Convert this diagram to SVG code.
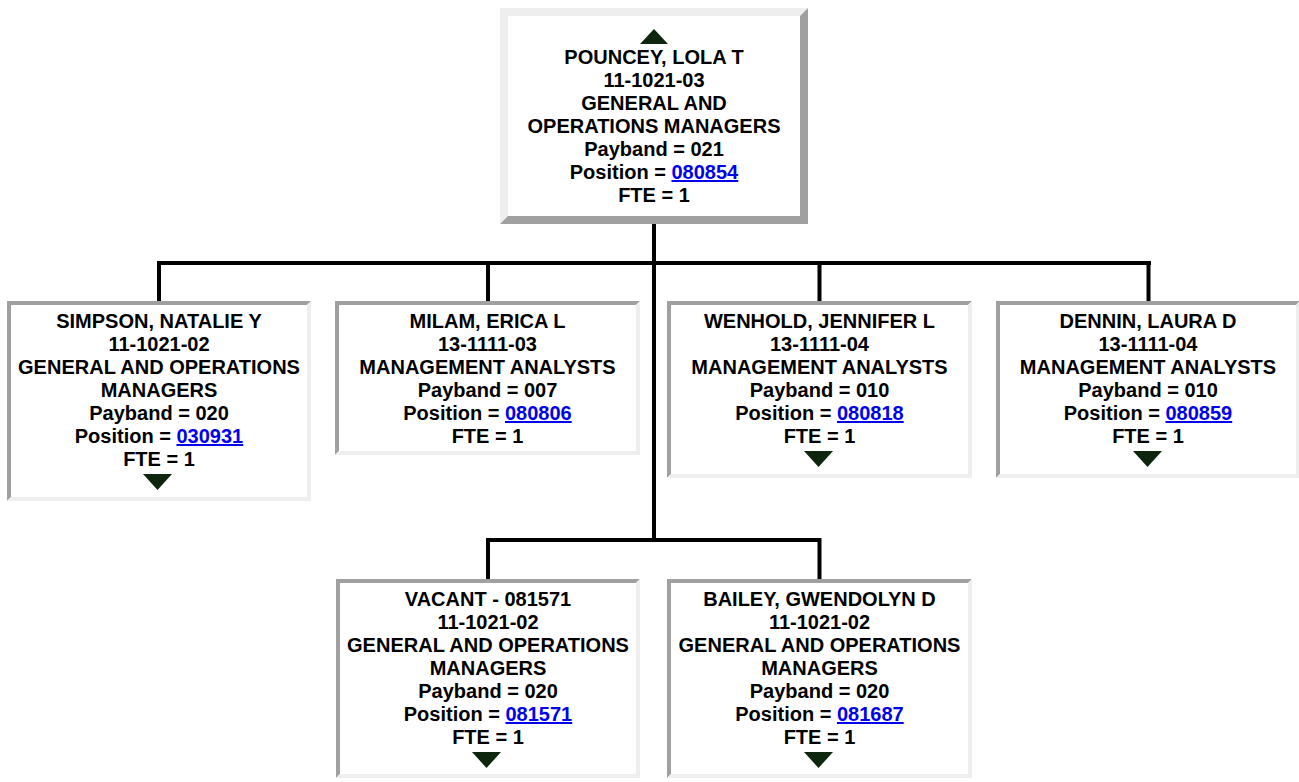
<svg xmlns="http://www.w3.org/2000/svg" width="1299" height="782" viewBox="0 0 1299 782">
<style>
.t{font-family:"Liberation Sans",Arial,sans-serif;font-size:20px;font-weight:bold;fill:#000;text-anchor:middle}
.lk{fill:#0000ee;text-decoration:underline}
.dk{fill:#a0a0a0}
.lt{fill:#eeeeee}
.bg{fill:#ffffff}
.tri{fill:#0d260d}
.cn{stroke:#000;stroke-width:4;fill:none}
</style>
<rect width="1299" height="782" fill="#fff"/>
<g id="connectors">
<path class="cn" d="M654 224V542M157 263H1151M159 263V301M488 263V301M819.5 263V301M1148.5 263V301M486 540H821.5M488 540V579M819.5 540V579"/>
</g>
<g id="n-pouncey">
<rect class="bg" x="500" y="8" width="308" height="216"/>
<polygon class="lt" points="500,8 808,8 800,16 508,16 508,216 500,224"/>
<polygon class="dk" points="808,8 808,224 500,224 508,216 800,216 800,16"/>
<polygon class="tri" points="640,44 668,44 654,29"/>
<text class="t" x="654" y="64">POUNCEY, LOLA T</text>
<text class="t" x="654" y="87">11-1021-03</text>
<text class="t" x="654" y="110">GENERAL AND</text>
<text class="t" x="654" y="133">OPERATIONS MANAGERS</text>
<text class="t" x="654" y="156">Payband = 021</text>
<text class="t" x="654" y="179">Position = <tspan class="lk">080854</tspan></text>
<text class="t" x="654" y="202">FTE = 1</text>
</g>
<g id="n-simpson">
<rect class="bg" x="7" y="301" width="304" height="200"/>
<polygon class="dk" points="7,301 311,301 307,305 11,305 11,497 7,501"/>
<polygon class="lt" points="311,301 311,501 7,501 11,497 307,497 307,305"/>
<text class="t" x="159" y="328">SIMPSON, NATALIE Y</text>
<text class="t" x="159" y="351">11-1021-02</text>
<text class="t" x="159" y="374">GENERAL AND OPERATIONS</text>
<text class="t" x="159" y="397">MANAGERS</text>
<text class="t" x="159" y="420">Payband = 020</text>
<text class="t" x="159" y="443">Position = <tspan class="lk">030931</tspan></text>
<text class="t" x="159" y="466">FTE = 1</text>
<polygon class="tri" points="143,474 172,474 157.5,490"/>
</g>
<g id="n-milam">
<rect class="bg" x="335" y="301" width="305" height="154"/>
<polygon class="dk" points="335,301 640,301 636,305 339,305 339,451 335,455"/>
<polygon class="lt" points="640,301 640,455 335,455 339,451 636,451 636,305"/>
<text class="t" x="487.5" y="328">MILAM, ERICA L</text>
<text class="t" x="487.5" y="351">13-1111-03</text>
<text class="t" x="487.5" y="374">MANAGEMENT ANALYSTS</text>
<text class="t" x="487.5" y="397">Payband = 007</text>
<text class="t" x="487.5" y="420">Position = <tspan class="lk">080806</tspan></text>
<text class="t" x="487.5" y="443">FTE = 1</text>
</g>
<g id="n-wenhold">
<rect class="bg" x="667" y="301" width="305" height="177"/>
<polygon class="dk" points="667,301 972,301 968,305 671,305 671,474 667,478"/>
<polygon class="lt" points="972,301 972,478 667,478 671,474 968,474 968,305"/>
<text class="t" x="819.5" y="328">WENHOLD, JENNIFER L</text>
<text class="t" x="819.5" y="351">13-1111-04</text>
<text class="t" x="819.5" y="374">MANAGEMENT ANALYSTS</text>
<text class="t" x="819.5" y="397">Payband = 010</text>
<text class="t" x="819.5" y="420">Position = <tspan class="lk">080818</tspan></text>
<text class="t" x="819.5" y="443">FTE = 1</text>
<polygon class="tri" points="804,451 833,451 818.5,467"/>
</g>
<g id="n-dennin">
<rect class="bg" x="996" y="301" width="304" height="177"/>
<polygon class="dk" points="996,301 1300,301 1296,305 1000,305 1000,474 996,478"/>
<polygon class="lt" points="1300,301 1300,478 996,478 1000,474 1296,474 1296,305"/>
<text class="t" x="1148" y="328">DENNIN, LAURA D</text>
<text class="t" x="1148" y="351">13-1111-04</text>
<text class="t" x="1148" y="374">MANAGEMENT ANALYSTS</text>
<text class="t" x="1148" y="397">Payband = 010</text>
<text class="t" x="1148" y="420">Position = <tspan class="lk">080859</tspan></text>
<text class="t" x="1148" y="443">FTE = 1</text>
<polygon class="tri" points="1133,451 1162,451 1147.5,467"/>
</g>
<g id="n-vacant">
<rect class="bg" x="336" y="579" width="304" height="199"/>
<polygon class="dk" points="336,579 640,579 636,583 340,583 340,774 336,778"/>
<polygon class="lt" points="640,579 640,778 336,778 340,774 636,774 636,583"/>
<text class="t" x="488" y="606">VACANT - 081571</text>
<text class="t" x="488" y="629">11-1021-02</text>
<text class="t" x="488" y="652">GENERAL AND OPERATIONS</text>
<text class="t" x="488" y="675">MANAGERS</text>
<text class="t" x="488" y="698">Payband = 020</text>
<text class="t" x="488" y="721">Position = <tspan class="lk">081571</tspan></text>
<text class="t" x="488" y="744">FTE = 1</text>
<polygon class="tri" points="472,752 501,752 486.5,768"/>
</g>
<g id="n-bailey">
<rect class="bg" x="667" y="579" width="305" height="199"/>
<polygon class="dk" points="667,579 972,579 968,583 671,583 671,774 667,778"/>
<polygon class="lt" points="972,579 972,778 667,778 671,774 968,774 968,583"/>
<text class="t" x="819.5" y="606">BAILEY, GWENDOLYN D</text>
<text class="t" x="819.5" y="629">11-1021-02</text>
<text class="t" x="819.5" y="652">GENERAL AND OPERATIONS</text>
<text class="t" x="819.5" y="675">MANAGERS</text>
<text class="t" x="819.5" y="698">Payband = 020</text>
<text class="t" x="819.5" y="721">Position = <tspan class="lk">081687</tspan></text>
<text class="t" x="819.5" y="744">FTE = 1</text>
<polygon class="tri" points="804,752 833,752 818.5,768"/>
</g>
</svg>
